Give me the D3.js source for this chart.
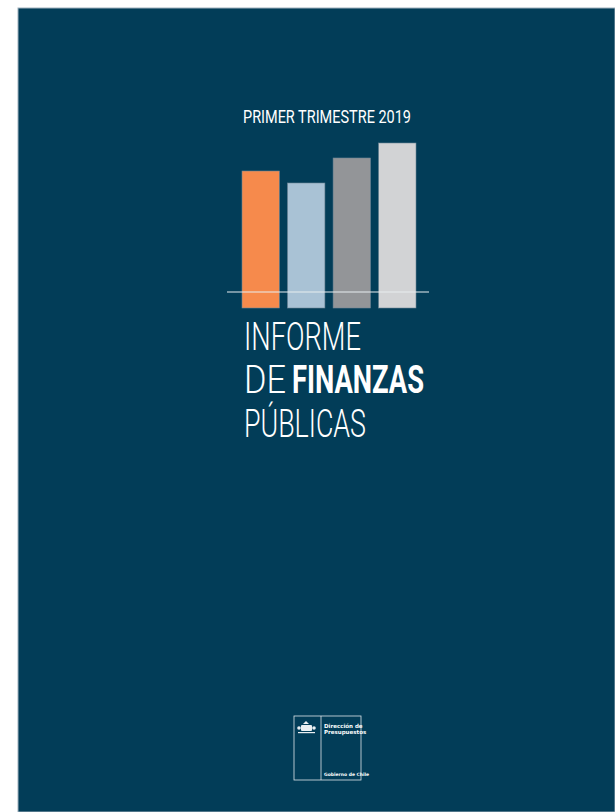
<!DOCTYPE html>
<html>
<head>
<meta charset="utf-8">
<script src="https://cdn.jsdelivr.net/npm/d3@7"></script>
<style>
  html, body { margin: 0; padding: 0; background: #fff; }
  svg { display: block; }
</style>
</head>
<body>
<div id="cover"></div>
<script>
var w = 615;
var h = 812;

// decorative bars on the cover
var categories = ["q1", "q2", "q3", "q4"];
var values = [137, 125, 150, 165];
var colors = ["#f68a4c", "#a9c2d5", "#939598", "#d2d3d5"];

var subtitle = "PRIMER TRIMESTRE 2019";
var titleLines = ["INFORME", "DE", "FINANZAS", "PÚBLICAS"];
var logoLines = ["Dirección de", "Presupuestos"];
var logoFooter = "Gobierno de Chile";

var svg = d3.select("#cover")
  .append("svg")
  .attr("width", w)
  .attr("height", h);

// background panel
svg.append("rect")
  .attr("x", 18)
  .attr("y", 8)
  .attr("width", w - 18)
  .attr("height", h - 8)
  .attr("fill", "#023d58")
  .attr("stroke", "#9fb1bd")
  .attr("stroke-width", 1);

var xScale = d3.scaleBand()
  .domain(categories)
  .range([242, 416])
  .paddingInner(0.18)
  .paddingOuter(0);

var yScale = d3.scaleLinear()
  .domain([0, 170])
  .range([308, 138]);

svg.append("g")
  .selectAll("rect")
  .data(values)
  .enter()
  .append("rect")
  .attr("x", function(d, i) { return xScale(categories[i]); })
  .attr("y", function(d) { return yScale(d); })
  .attr("width", xScale.bandwidth())
  .attr("height", function(d) { return yScale(0) - yScale(d); })
  .attr("fill", function(d, i) { return colors[i]; })
  .attr("stroke", "#6f8797")
  .attr("stroke-width", 0.6);

// baseline across the bars
svg.append("line")
  .attr("x1", 227)
  .attr("x2", 429)
  .attr("y1", 292)
  .attr("y2", 292)
  .attr("stroke", "#e8edf0")
  .attr("stroke-width", 1.2);

svg.append("text")
  .attr("x", 243)
  .attr("y", 123)
  .attr("textLength", 168)
  .attr("lengthAdjust", "spacingAndGlyphs")
  .style("font", "400 19px 'Roboto', sans-serif")
  .attr("fill", "#ffffff")
  .text(subtitle);

// title, one text per word so the lines stay tight
var titleX = [244, 244, 292, 244];
var titleY = [350, 393, 393, 437];
var titleW = [117, 42, 132, 122];
var titleWeight = [300, 300, 700, 300];
titleLines.forEach(function(s, i) {
  svg.append("text")
    .attr("x", titleX[i])
    .attr("y", titleY[i])
    .attr("textLength", titleW[i])
    .attr("lengthAdjust", "spacingAndGlyphs")
    .style("font", titleWeight[i] + " 38px 'Roboto', sans-serif")
    .attr("fill", "#ffffff")
    .text(s);
});

// logo
var logo = svg.append("g");
logo.append("rect")
  .attr("x", 294)
  .attr("y", 716)
  .attr("width", 67)
  .attr("height", 64)
  .attr("fill", "none")
  .attr("stroke", "#dfe6ea")
  .attr("stroke-width", 0.8);
logo.append("line")
  .attr("x1", 321).attr("x2", 321)
  .attr("y1", 716).attr("y2", 780)
  .attr("stroke", "#dfe6ea")
  .attr("stroke-width", 0.8);

// small coat of arms
var arms = logo.append("g").attr("fill", "#e9eef1");
arms.append("path")
  .attr("d", "M303,724 l3,-3 l3,3 z");
arms.append("rect").attr("x", 301).attr("y", 725).attr("width", 11).attr("height", 6).attr("rx", 1);
arms.append("circle").attr("cx", 299).attr("cy", 728).attr("r", 1.8);
arms.append("circle").attr("cx", 314).attr("cy", 728).attr("r", 1.8);
arms.append("rect").attr("x", 298).attr("y", 732).attr("width", 17).attr("height", 1.2);

logoLines.forEach(function(s, i) {
  logo.append("text")
    .attr("x", 324)
    .attr("y", 728 + i * 6)
    .style("font", "700 5.5px 'DejaVu Sans', sans-serif")
    .attr("fill", "#ffffff")
    .text(s);
});
logo.append("text")
  .attr("x", 324)
  .attr("y", 776)
  .style("font", "700 4.5px 'DejaVu Sans', sans-serif")
  .attr("fill", "#ffffff")
  .text(logoFooter);
</script>
</body>
</html>
